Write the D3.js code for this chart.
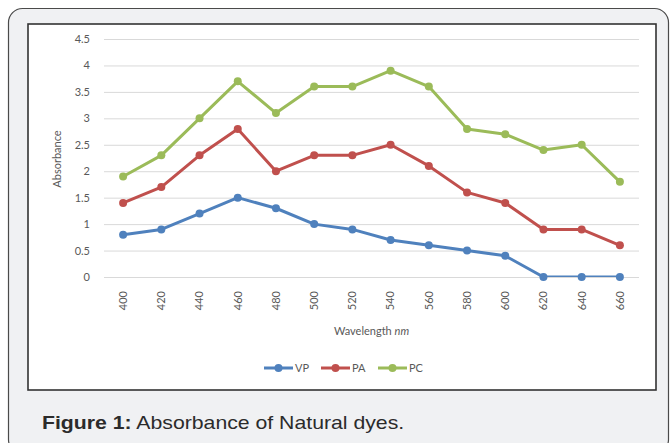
<!DOCTYPE html>
<html>
<head>
<meta charset="utf-8">
<script src="https://cdn.jsdelivr.net/npm/d3@7"></script>
<style>
  html, body { margin: 0; padding: 0; background: #fff; }
  svg { display: block; }
</style>
</head>
<body>
<svg id="chart" width="670" height="443"></svg>
<script>
// data
const wavelengths = ['400', '420', '440', '460', '480', '500', '520', '540', '560', '580', '600', '620', '640', '660'];
const vp = [0.8, 0.9, 1.2, 1.5, 1.3, 1.0, 0.9, 0.7, 0.6, 0.5, 0.4, 0, 0, 0];
const pa = [1.4, 1.7, 2.3, 2.8, 2.0, 2.3, 2.3, 2.5, 2.1, 1.6, 1.4, 0.9, 0.9, 0.6];
const pc = [1.9, 2.3, 3.0, 3.7, 3.1, 3.6, 3.6, 3.9, 3.6, 2.8, 2.7, 2.4, 2.5, 1.8];
const yTicks = [0, 0.5, 1, 1.5, 2, 2.5, 3, 3.5, 4, 4.5];
const seriesNames = ['VP', 'PA', 'PC'];
const seriesColors = ['#4f81bd', '#c0504d', '#9bbb59'];

const series = [vp, pa, pc].map((values, i) => ({
    name: seriesNames[i],
    color: seriesColors[i],
    values: values.map((v, j) => ({ x: wavelengths[j], y: v }))
}));

const svg = d3.select('#chart');
const font = 'Lato, "Open Sans", sans-serif';
const textColor = '#595959';

// outer grey panel with rounded corners
svg.append('rect')
    .attr('x', 8.5).attr('y', 8.5)
    .attr('width', 660).attr('height', 445)
    .attr('rx', 14).attr('ry', 14)
    .attr('fill', '#f0f1f3')
    .attr('stroke', '#4a4a4a')
    .attr('stroke-width', 1.2);

// white chart box
svg.append('rect')
    .attr('x', 28).attr('y', 24)
    .attr('width', 628).attr('height', 366)
    .attr('fill', '#fff')
    .attr('stroke', '#333')
    .attr('stroke-width', 1.6);

// plot area
const plot = { left: 104, right: 639, top: 39, bottom: 277 };

const x = d3.scaleBand()
    .domain(wavelengths)
    .range([plot.left, plot.right]);

const y = d3.scaleLinear()
    .domain([0, 4.5])
    .range([plot.bottom, plot.top]);

// gridlines
svg.append('g')
    .selectAll('line')
    .data(yTicks)
    .enter()
    .append('line')
    .attr('x1', plot.left).attr('x2', plot.right)
    .attr('y1', d => y(d) + 0.5).attr('y2', d => y(d) + 0.5)
    .attr('stroke', '#d9d9d9')
    .attr('stroke-width', 1);

// y axis labels
const yAxis = svg.append('g')
    .attr('transform', `translate(${plot.left - 14}, 0)`)
    .call(d3.axisLeft(y).tickValues(yTicks).tickSize(0).tickPadding(0).tickFormat(d3.format('')));
yAxis.select('.domain').remove();
yAxis.selectAll('text')
    .style('font-family', font)
    .style('font-size', '11px')
    .attr('fill', textColor);

// x axis labels (rotated)
const xAxis = svg.append('g')
    .attr('transform', `translate(0, ${plot.bottom + 14})`)
    .call(d3.axisBottom(x).tickSize(0).tickPadding(0));
xAxis.select('.domain').remove();
xAxis.selectAll('text')
    .attr('transform', 'rotate(-90)')
    .attr('x', 0)
    .attr('y', 0)
    .attr('dy', '0.35em')
    .style('text-anchor', 'end')
    .style('font-family', font)
    .style('font-size', '11px')
    .attr('fill', textColor);

// axis titles
const xTitle = svg.append('text')
    .attr('x', (plot.left + plot.right) / 2)
    .attr('y', 335)
    .style('text-anchor', 'middle')
    .style('font-family', font)
    .style('font-size', '11px')
    .attr('fill', textColor);
xTitle.append('tspan').text('Wavelength ');
xTitle.append('tspan').style('font-style', 'italic').text('nm');

svg.append('text')
    .attr('transform', 'rotate(-90)')
    .attr('x', -159)
    .attr('y', 57)
    .attr('dy', '0.35em')
    .style('text-anchor', 'middle')
    .style('font-family', font)
    .style('font-size', '11px')
    .attr('fill', textColor)
    .text('Absorbance');

// clip the lines to the plot area, like the spreadsheet does
svg.append('clipPath')
    .attr('id', 'plot-clip')
    .append('rect')
    .attr('x', plot.left).attr('y', plot.top - 10)
    .attr('width', plot.right - plot.left)
    .attr('height', plot.bottom - plot.top + 10);

const line = d3.line()
    .x(d => x(d.x) + x.bandwidth() / 2)
    .y(d => y(d.y));

const groups = svg.selectAll('.series')
    .data(series)
    .enter()
    .append('g')
    .attr('class', 'series');

groups.append('path')
    .attr('d', d => line(d.values))
    .attr('fill', 'none')
    .attr('stroke', d => d.color)
    .attr('stroke-width', 3)
    .attr('stroke-linejoin', 'round')
    .attr('clip-path', 'url(#plot-clip)');

groups.selectAll('circle')
    .data(d => d.values.map(v => ({ ...v, color: d.color })))
    .enter()
    .append('circle')
    .attr('cx', d => x(d.x) + x.bandwidth() / 2)
    .attr('cy', d => y(d.y))
    .attr('r', 4)
    .attr('fill', d => d.color);

// legend
const legendX = [264, 321, 378];
const legend = svg.append('g')
    .selectAll('g')
    .data(series)
    .enter()
    .append('g')
    .attr('transform', (d, i) => `translate(${legendX[i]}, 368)`);

legend.append('line')
    .attr('x1', 0).attr('x2', 29)
    .attr('stroke', d => d.color)
    .attr('stroke-width', 3);
legend.append('circle')
    .attr('cx', 14.5)
    .attr('r', 4)
    .attr('fill', d => d.color);
legend.append('text')
    .attr('x', 31)
    .attr('dy', '0.35em')
    .style('font-family', font)
    .style('font-size', '11px')
    .attr('fill', textColor)
    .text(d => d.name);

// caption (the source text is a little wider than plain Arial)
const caption = svg.append('text')
    .attr('transform', 'translate(42, 429) scale(1.18, 1)')
    .style('font-family', '"Liberation Sans", Arial, sans-serif')
    .style('font-size', '18px')
    .attr('fill', '#2b2b2b');
caption.append('tspan').style('font-weight', 'bold').text('Figure 1:');
caption.append('tspan').text(' Absorbance of Natural dyes.');
</script>
</body>
</html>
